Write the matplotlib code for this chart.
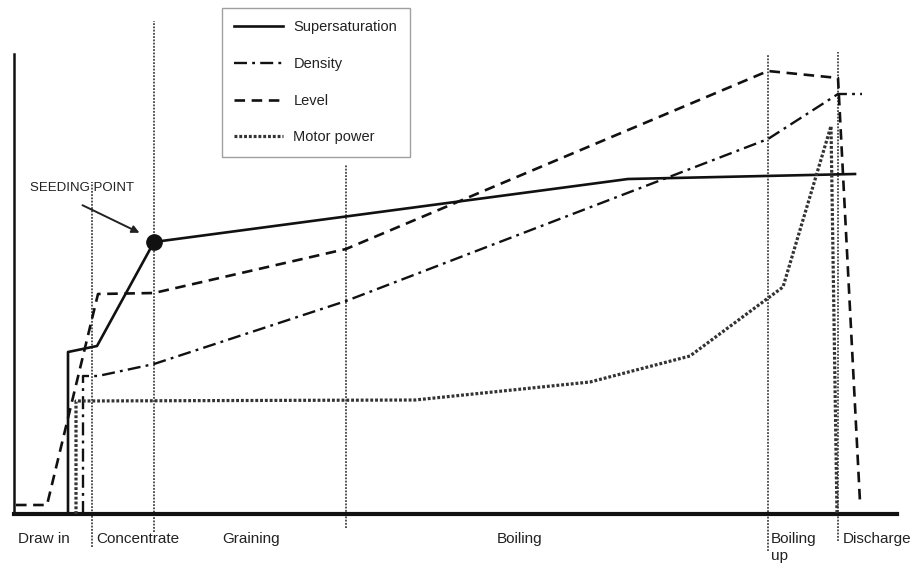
import matplotlib.pyplot as plt

plt.rcParams['font.family'] = ['Liberation Sans', 'DejaVu Sans']

# Curve values (x = time units from the left axis, y = height above the base line)
supersat_x = [54, 54, 83, 140, 614, 841]
supersat_y = [0, 162, 168, 272, 335, 340]

density_x = [69, 69, 84, 140, 332, 754, 824, 848]
density_y = [0, 138, 138, 150, 213, 375, 420, 420]

level_x = [2, 33, 84, 140, 332, 754, 824, 846]
level_y = [9, 9, 220, 221, 265, 443, 436, 12]

motor_x = [62, 62, 401, 576, 676, 769, 817, 823]
motor_y = [0, 113, 114, 132, 158, 227, 388, 0]

seed_index = 3

# Phase boundaries and their names
phase_x = [78, 140, 332, 754, 824]
phase_top = [332, 493, 350, 460, 462]
phase_bottom = [-33, -18, -14, -37, -27]
phase_names = ['Draw in', 'Concentrate', 'Graining', 'Boiling', 'Boiling\nup', 'Discharge']
phase_label_x = [4, 82, 208, 483, 757, 829]

fig = plt.figure(figsize=(9.2, 5.69), dpi=100)
ax = fig.add_axes([14 / 920, 55 / 569, 883 / 920, 460 / 569])
ax.set_xlim(0, 883)
ax.set_ylim(0, 460)

ink = '#111111'
for s in ['top', 'right']:
    ax.spines[s].set_visible(False)
ax.spines['left'].set_linewidth(1.8)
ax.spines['bottom'].set_linewidth(3.0)
ax.spines['left'].set_color(ink)
ax.spines['bottom'].set_color(ink)
ax.set_xticks([])
ax.set_yticks([])

# phase boundary lines
for px, top, bot in zip(phase_x, phase_top, phase_bottom):
    ax.plot([px, px], [bot, top], color='#444444', lw=1.3,
            linestyle=(0, (1, 0.8)), clip_on=False, zorder=1)

ax.plot(supersat_x, supersat_y, color=ink, lw=1.9, label='Supersaturation', zorder=3)
ax.plot(density_x, density_y, color=ink, lw=1.7,
        linestyle=(0, (5.5, 2.2, 1.2, 2.2)), label='Density', zorder=3)
ax.plot(level_x, level_y, color=ink, lw=1.9,
        linestyle=(0, (4, 2.5)), label='Level', zorder=3)
ax.plot(motor_x, motor_y, color='#333333', lw=2.3,
        linestyle=(0, (0.9, 0.6)), label='Motor power', zorder=3)

# seeding point
ax.plot(supersat_x[seed_index], supersat_y[seed_index], 'o', color=ink,
        ms=11, zorder=4)
ax.annotate('', xy=(supersat_x[seed_index] - 12, supersat_y[seed_index] + 8),
            xytext=(66, 310),
            arrowprops=dict(arrowstyle='-|>', lw=1.4, color='#222222',
                            mutation_scale=11))
ax.text(16, 326, 'SEEDING POINT', fontsize=9.5, color='#222222',
        va='center', ha='left', zorder=0)

# phase names under the axis
for lx, name in zip(phase_label_x, phase_names):
    ax.text(lx, -18, name, fontsize=11, color='#222222', va='top', ha='left',
            linespacing=1.3)

leg = ax.legend(loc='upper left', bbox_to_anchor=(222 / 920, 1 - 8 / 569),
                bbox_transform=fig.transFigure, frameon=True, fancybox=False,
                fontsize=10.5, handlelength=3.3, handletextpad=0.75,
                labelspacing=1.55, borderpad=0.85, borderaxespad=0)
leg.get_frame().set_edgecolor('#888888')
leg.get_frame().set_linewidth(1.0)
for t in leg.get_texts():
    t.set_color('#222222')

fig.savefig('out.png', dpi=100)
